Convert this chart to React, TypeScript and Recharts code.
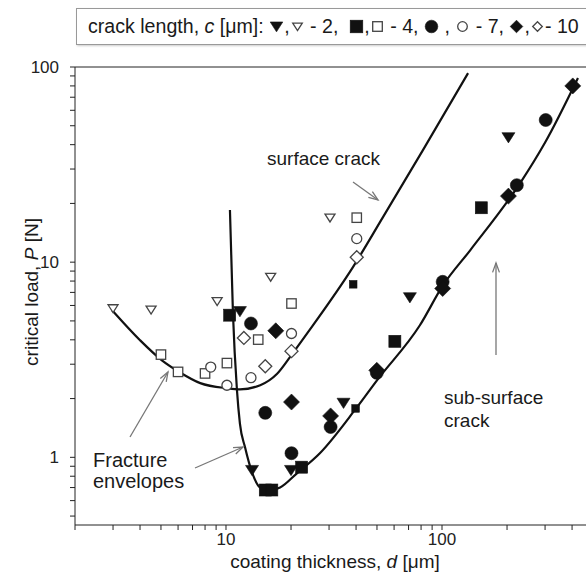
import React from 'react';
import { ComposedChart, Scatter, Line, XAxis, YAxis } from 'recharts';

// [coating thickness d (um), critical load P (N)]
const tri2Filled = [[11.6, 5.6], [13.2, 0.86], [20, 0.86], [35, 1.9], [71, 6.6], [203, 43.6]];
const tri2Open = [[3, 5.8], [4.5, 5.7], [9.1, 6.3], [16.1, 8.4], [30.3, 16.9]];
const sq4Filled = [[10.4, 5.35], [15.2, 0.68], [16.3, 0.68], [22.4, 0.89], [60.5, 3.93], [152, 19]];
const sq4Small = [[38.8, 7.7], [39.8, 1.78]];
const sq4Open = [[5, 3.36], [6, 2.74], [8, 2.69], [10.1, 3.04], [14.1, 4.01], [20.1, 6.14], [40.3, 16.9]];
const dot7Filled = [[13.05, 4.85], [15.2, 1.69], [20.1, 1.05], [30.5, 1.43], [49.9, 2.71], [100.7, 7.93], [222, 24.8], [302, 53.5]];
const dot7Open = [[8.5, 2.9], [10.1, 2.34], [13.05, 2.56], [20.1, 4.31], [40.3, 13.2]];
const dia10Filled = [[17, 4.45], [20.1, 1.92], [30.5, 1.63], [49.9, 2.79], [100.7, 7.33], [203, 21.8], [403, 80]];
const dia10Open = [[12.1, 4.09], [15.2, 2.93], [20.1, 3.5], [40.3, 10.6]];

// fracture envelopes
const surfaceEnvelope = [[2.97, 5.67], [4.0, 3.98], [5.05, 3.14], [6.1, 2.73], [7.6, 2.4], [10.1, 2.26], [11.6, 2.23], [14.4, 2.34], [17.2, 2.67], [20.2, 3.37], [23.7, 4.3], [38.7, 9.43], [53.3, 17], [81.6, 37.5], [132, 93]];
const subSurfaceEnvelope = [[10.43, 18.5], [10.77, 5.48], [11.24, 2.21], [11.6, 1.49], [12.25, 1.125], [13.2, 0.838], [14.4, 0.7], [16.0, 0.678], [17.8, 0.7], [21.3, 0.828], [27.2, 1.05], [40, 1.78], [50, 2.48], [79, 4.75], [101, 7.6], [135, 11.5], [230, 25.4], [300, 41], [426, 87.8]];

const xTicks = [2, 3, 4, 5, 6, 7, 8, 9, 10, 20, 30, 40, 50, 60, 70, 80, 90, 100, 200, 300, 400, 500];
const yTicks = [0.5, 0.6, 0.7, 0.8, 0.9, 1, 2, 3, 4, 5, 6, 7, 8, 9, 10, 20, 30, 40, 50, 60, 70, 80, 90, 100];
const labelled = [1, 10, 100];

const toPoints = (rows: number[][]) => rows.map(([x, y]) => ({ x, y }));

type Kind = 'tri' | 'sq' | 'dot' | 'dia';

function Marker({ kind, filled, cx, cy, s }: { kind: Kind; filled: boolean; cx: number; cy: number; s: number }) {
  if (cx == null || cy == null) return null;
  const p = {
    fill: filled ? '#111' : '#fff',
    stroke: filled ? '#111' : '#444',
    strokeWidth: filled ? 0.6 : 1.3,
  };
  if (kind === 'tri')
    return <polygon {...p} points={`${cx - s},${cy - s * 0.72} ${cx + s},${cy - s * 0.72} ${cx},${cy + s * 0.85}`} />;
  if (kind === 'sq') return <rect {...p} x={cx - s} y={cy - s} width={2 * s} height={2 * s} />;
  if (kind === 'dot') return <circle {...p} cx={cx} cy={cy} r={s} />;
  return <polygon {...p} points={`${cx},${cy - s} ${cx + s},${cy} ${cx},${cy + s} ${cx - s},${cy}`} />;
}

const shape = (kind: Kind, filled: boolean, s: number) => (props: any) =>
  <Marker kind={kind} filled={filled} cx={props.cx} cy={props.cy} s={s} />;

function Icon({ kind, filled }: { kind: Kind; filled: boolean }) {
  return (
    <svg width={15} height={15} style={{ verticalAlign: '-1px' }}>
      <Marker kind={kind} filled={filled} cx={7.5} cy={7.5} s={filled ? 6.3 : 4.8} />
    </svg>);
}

function Arrow({ x1, y1, x2, y2 }: { x1: number; y1: number; x2: number; y2: number }) {
  const a = Math.atan2(y2 - y1, x2 - x1);
  const len = 10, spread = 0.35;
  const h1 = `${x2 - len * Math.cos(a - spread)},${y2 - len * Math.sin(a - spread)}`;
  const h2 = `${x2 - len * Math.cos(a + spread)},${y2 - len * Math.sin(a + spread)}`;
  return (
    <g stroke="#777" strokeWidth={1.3} fill="none">
      <line x1={x1} y1={y1} x2={x2} y2={y2} />
      <polyline points={`${h1} ${x2},${y2} ${h2}`} />
    </g>);
}

const tickStyle = { fill: '#222', fontSize: 17 };

export default function App() {
  return (
    <div style={{
      position: 'fixed', left: 0, top: 0, width: 586, height: 578, overflow: 'hidden',
      background: '#fff', fontFamily: '"Liberation Sans", Arial, sans-serif', color: '#1a1a1a'
    }}>
      <ComposedChart width={600} height={578} margin={{ top: 66, right: 7, bottom: 13, left: 15 }}
        style={{ position: 'absolute', left: 0, top: 0 }}>
        <XAxis dataKey="x" type="number" scale="log" domain={[2, 500]} allowDataOverflow
          ticks={xTicks} interval={0} tickSize={5} tickMargin={3} height={40}
          tickFormatter={(v) => labelled.includes(v) ? String(v) : ''}
          stroke="#222" tick={tickStyle} />
        <XAxis xAxisId="top" orientation="top" type="number" scale="log" domain={[2, 500]} allowDataOverflow
          ticks={xTicks} interval={0} tickSize={5} height={1} tickFormatter={() => ''}
          stroke="#222" tick={tickStyle} />
        <YAxis dataKey="y" type="number" scale="log" domain={[0.45, 100]} allowDataOverflow
          ticks={yTicks} interval={0} tickSize={5} tickMargin={11} width={60}
          tickFormatter={(v) => labelled.includes(v) ? String(v) : ''}
          stroke="#222" tick={tickStyle} />

        <Scatter name="c=2 open" data={toPoints(tri2Open)} shape={shape('tri', false, 5)} isAnimationActive={false} />
        <Scatter name="c=4 open" data={toPoints(sq4Open)} shape={shape('sq', false, 4.7)} isAnimationActive={false} />
        <Scatter name="c=7 open" data={toPoints(dot7Open)} shape={shape('dot', false, 5)} isAnimationActive={false} />
        <Scatter name="c=10 open" data={toPoints(dia10Open)} shape={shape('dia', false, 6.5)} isAnimationActive={false} />
        <Scatter name="c=2" data={toPoints(tri2Filled)} shape={shape('tri', true, 6.5)} isAnimationActive={false} />
        <Scatter name="c=4" data={toPoints(sq4Filled)} shape={shape('sq', true, 6)} isAnimationActive={false} />
        <Scatter name="c=4 small" data={toPoints(sq4Small)} shape={shape('sq', true, 3.8)} isAnimationActive={false} />
        <Scatter name="c=7" data={toPoints(dot7Filled)} shape={shape('dot', true, 6.5)} isAnimationActive={false} />
        <Scatter name="c=10" data={toPoints(dia10Filled)} shape={shape('dia', true, 8)} isAnimationActive={false} />

        <Line data={toPoints(surfaceEnvelope)} dataKey="y" type="monotone" stroke="#111" strokeWidth={2.2}
          dot={false} activeDot={false} isAnimationActive={false} />
        <Line data={toPoints(subSurfaceEnvelope)} dataKey="y" type="monotone" stroke="#111" strokeWidth={2.2}
          dot={false} activeDot={false} isAnimationActive={false} />
      </ComposedChart>

      <svg width={586} height={578} style={{ position: 'absolute', left: 0, top: 0, pointerEvents: 'none' }}
        fill="#1a1a1a">
        <text x={267} y={165} fontSize={19}>surface crack</text>
        <Arrow x1={353} y1={182} x2={378} y2={200} />
        <text x={93} y={467} fontSize={20}>Fracture</text>
        <text x={93} y={488} fontSize={20}>envelopes</text>
        <Arrow x1={130} y1={437} x2={168} y2={372} />
        <Arrow x1={195} y1={468} x2={243} y2={447} />
        <text x={444} y={404} fontSize={19}>sub-surface</text>
        <text x={444} y={427} fontSize={19}>crack</text>
        <Arrow x1={496} y1={355} x2={496} y2={263} />
        <text x={335} y={568} fontSize={19} textAnchor="middle">
          coating thickness, <tspan fontStyle="italic">d</tspan> [μm]
        </text>
        <text transform="translate(38,292) rotate(-90)" fontSize={19} textAnchor="middle">
          critical load, <tspan fontStyle="italic">P</tspan> [N]
        </text>
      </svg>

      <div style={{
        position: 'absolute', left: 76, top: 8, width: 580, height: 37, boxSizing: 'border-box',
        border: '1px solid #999', boxShadow: '1px 1px 2px #ccc', background: '#fff',
        fontSize: 19.6, lineHeight: '35px', paddingLeft: 11, whiteSpace: 'nowrap'
      }}>
        crack length, <i>c</i> [μm]: <Icon kind="tri" filled />,<Icon kind="tri" filled={false} /> - 2,&nbsp;&nbsp;
        <Icon kind="sq" filled />,<Icon kind="sq" filled={false} /> - 4, <Icon kind="dot" filled /> , <Icon kind="dot" filled={false} /> - 7,&nbsp;
        <Icon kind="dia" filled />,<Icon kind="dia" filled={false} />- 10
      </div>
    </div>);
}
